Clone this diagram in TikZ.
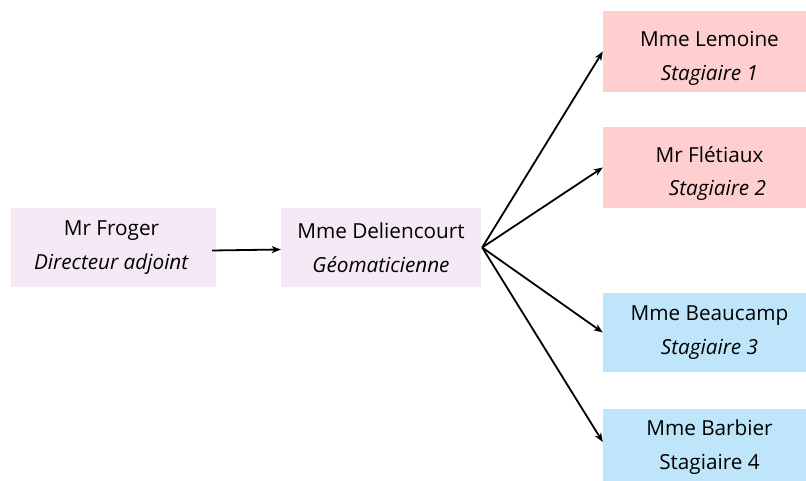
\documentclass[tikz,border=0pt]{standalone}
\usepackage{fontspec}
\setmainfont{Open Sans}
\usetikzlibrary{arrows.meta}
\definecolor{lilas}{RGB}{244,233,244}
\definecolor{rose}{RGB}{255,207,207}
\definecolor{ciel}{RGB}{191,229,250}
\tikzset{
	personne/.style={fill=#1,inner sep=0pt},
	texte/.style={inner sep=0pt,align=center,font=\fontsize{20.8}{34}\selectfont},
	fleche/.style={line width=1.8bp,-{Stealth[length=9bp,width=7bp,inset=2.5bp]}}
}
\begin{document}
\begin{tikzpicture}[x=1bp,y=-1bp]
	\useasboundingbox (0,0) rectangle (806,481);
	\clip (0,0) rectangle (806,481);
	%chefs
	\node[personne=lilas,minimum width=205bp,minimum height=79bp,
		label={[texte,xshift=-2bp]center:Mr Froger\\\textit{Directeur adjoint}}] (froger) at (113.5,247.5) {};
	\node[personne=lilas,minimum width=200bp,minimum height=79bp,
		label={[texte]center:Mme Deliencourt\\\textit{Géomaticienne}}] (deliencourt) at (381,247.5) {};
	%stagiaires
	\node[personne=rose,minimum width=213bp,minimum height=81bp,
		label={[texte,yshift=-7bp]center:Mme Lemoine\\\textit{Stagiaire 1}}] (lemoine) at (709.5,51.5) {};
	\node[personne=rose,minimum width=213bp,minimum height=81bp,
		label={[texte,yshift=-6bp]center:Mr Flétiaux\\\hspace*{16bp}\textit{Stagiaire 2}}] (fletiaux) at (709.5,167.5) {};
	\node[personne=ciel,minimum width=213bp,minimum height=79bp,
		label={[texte]center:Mme Beaucamp\\\textit{Stagiaire 3}}] (beaucamp) at (709.5,332.5) {};
	\node[personne=ciel,minimum width=213bp,minimum height=72bp,
		label={[texte,yshift=-2bp]center:Mme Barbier\\Stagiaire 4}] (barbier) at (709.5,445) {};
	%fleches
	\draw[fleche] ([xshift=-4bp,yshift=-3bp]froger.east) -- ([yshift=-2bp]deliencourt.west);
	\foreach \cible in {lemoine,fletiaux,beaucamp}
		\draw[fleche] ([xshift=1bp]deliencourt.east) -- (\cible.west);
	\draw[fleche] ([xshift=1bp]deliencourt.east) -- ([yshift=3bp]barbier.west);
\end{tikzpicture}
\end{document}
